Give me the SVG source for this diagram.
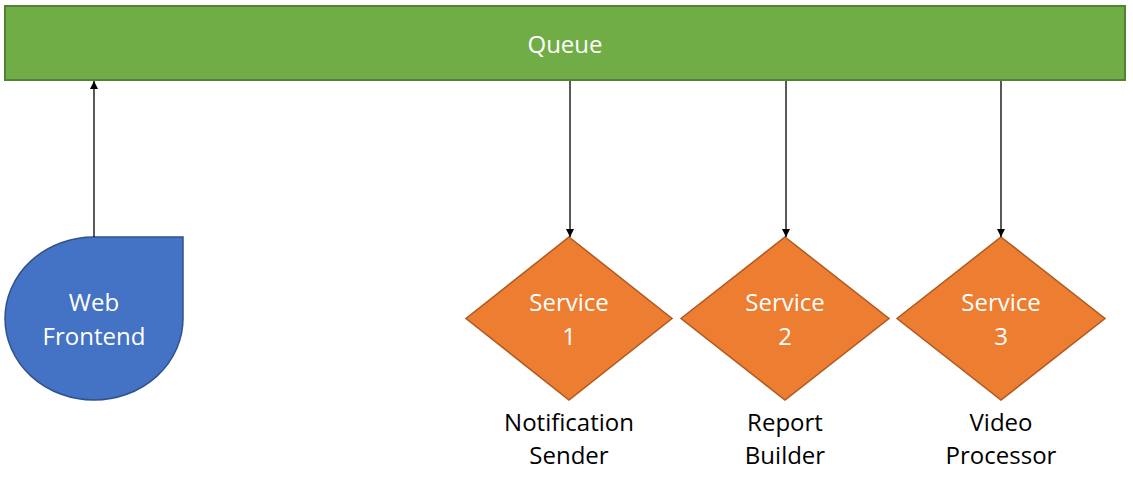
<svg xmlns="http://www.w3.org/2000/svg" width="1133" height="479" viewBox="0 0 1133 479">
<style>
text{font-family:"Open Sans","Liberation Sans",sans-serif;font-size:24px;text-anchor:middle}
.w{fill:#ffffff}
.k{fill:#000000}
.svc{fill:#ED7D31;stroke:#AE5A21;stroke-width:1.5}
.con{stroke:#000;stroke-width:1.3;fill:none;marker-end:url(#ah)}
</style>
<defs>
<marker id="ah" viewBox="0 0 10 10" refX="10" refY="5" markerWidth="8" markerHeight="8" markerUnits="userSpaceOnUse" orient="auto">
<path d="M0,0 L10,5 L0,10 Z" fill="#000"/>
</marker>
</defs>
<g id="queue">
<rect x="5" y="6" width="1120" height="74" fill="#70AD47" stroke="#548235" stroke-width="2"/>
<text class="w" x="565" y="53">Queue</text>
</g>
<g id="web-frontend">
<path d="M94,237 L183,237 L183,318.5 A89,81.5 0 1 1 94,237 Z" fill="#4472C4" stroke="#2F528F" stroke-width="1.5"/>
<text class="w" x="94" y="311">Web</text>
<text class="w" x="94" y="345">Frontend</text>
</g>
<g id="service1">
<polygon class="svc" points="569,237 672,318.5 569,400 466,318.5"/>
<text class="w" x="569" y="311">Service</text>
<text class="w" x="569" y="345">1</text>
<text class="k" x="569" y="431">Notification</text>
<text class="k" x="569" y="464">Sender</text>
</g>
<g id="service2">
<polygon class="svc" points="785,237 889,318.5 785,400 681,318.5"/>
<text class="w" x="785" y="311">Service</text>
<text class="w" x="785" y="345">2</text>
<text class="k" x="785" y="431">Report</text>
<text class="k" x="785" y="464">Builder</text>
</g>
<g id="service3">
<polygon class="svc" points="1001,237 1105,318.5 1001,400 897,318.5"/>
<text class="w" x="1001" y="311">Service</text>
<text class="w" x="1001" y="345">3</text>
<text class="k" x="1001" y="431">Video</text>
<text class="k" x="1001" y="464">Processor</text>
</g>
<g id="connectors">
<line class="con" x1="94" y1="237" x2="94" y2="81"/>
<line class="con" x1="570" y1="81" x2="570" y2="237"/>
<line class="con" x1="786" y1="81" x2="786" y2="237"/>
<line class="con" x1="1001" y1="81" x2="1001" y2="237"/>
</g>
</svg>
